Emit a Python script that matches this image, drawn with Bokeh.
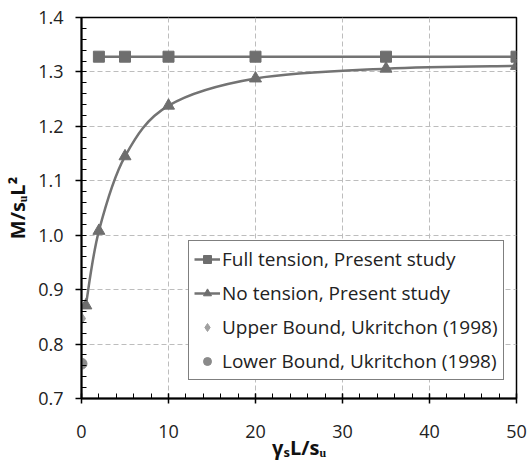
from bokeh.plotting import figure
from bokeh.models import Legend, LegendItem, FixedTicker, Range1d
from bokeh.embed import file_html
from bokeh.resources import INLINE

# Data
full_x = [2, 5, 10, 20, 35, 50]
full_y = [1.328, 1.328, 1.328, 1.328, 1.328, 1.328]
no_x = [0.5, 2, 5, 10, 20, 35, 50]
no_y = [0.871, 1.008, 1.145, 1.238, 1.288, 1.306, 1.311]
upper_x = [0]
upper_y = [0.847]
lower_x = [0]
lower_y = [0.764]

x_ticks = [0, 10, 20, 30, 40, 50]
y_ticks = [0.7, 0.8, 0.9, 1.0, 1.1, 1.2, 1.3, 1.4]

FONT = "Open Sans"
GRAY = "#737373"

p = figure(width=528, height=472, output_backend="svg", toolbar_location=None,
           x_range=Range1d(0, 50), y_range=Range1d(0.7, 1.4),
           min_border_left=81, min_border_right=12, min_border_top=17, min_border_bottom=74)

p.background_fill_color = "white"
p.border_fill_color = "white"
p.outline_line_color = "black"
p.outline_line_width = 1.5

# grids
for g in (p.xgrid, p.ygrid):
    g.grid_line_color = "#bdbdbd"
    g.grid_line_dash = "5 3"
    g.grid_line_width = 1
p.xgrid.ticker = FixedTicker(ticks=x_ticks)
p.ygrid.ticker = FixedTicker(ticks=y_ticks)

# axes
p.xaxis.ticker = FixedTicker(ticks=x_ticks, minor_ticks=[i * 2 for i in range(26)])
p.yaxis.ticker = FixedTicker(ticks=y_ticks, minor_ticks=[round(0.7 + 0.02 * i, 2) for i in range(36)])
p.yaxis.major_label_overrides = {t: f"{t:.1f}" for t in y_ticks}
for ax in (p.xaxis, p.yaxis):
    ax.axis_line_color = "black"
    ax.axis_line_width = 2
    ax.major_tick_line_color = "black"
    ax.major_tick_line_width = 1.5
    ax.minor_tick_line_color = "black"
    ax.minor_tick_line_width = 1
    ax.major_label_text_font = FONT
    ax.major_label_text_font_size = "18px"
    ax.major_label_text_color = "#222222"
    ax.axis_label_text_font = FONT
    ax.axis_label_text_font_size = "20px"
    ax.axis_label_text_font_style = "bold"
    ax.axis_label_text_color = "#111111"

p.xaxis.major_tick_in = 5
p.xaxis.major_tick_out = 5
p.xaxis.minor_tick_in = 5
p.xaxis.minor_tick_out = 0
p.xaxis.major_label_standoff = 21
p.xaxis.axis_label = "γₛL/sᵤ"
p.xaxis.axis_label_standoff = -7

p.yaxis.major_tick_in = 0
p.yaxis.major_tick_out = 6
p.yaxis.minor_tick_in = 5
p.yaxis.minor_tick_out = 0
p.yaxis.major_label_standoff = 12
p.yaxis.axis_label = "M/sᵤL²"
p.yaxis.axis_label_standoff = 4

# Full tension
r1l = p.line(full_x, full_y, line_color=GRAY, line_width=2.5)
r1m = p.scatter(full_x, full_y, marker="square", size=11, fill_color="#6e6e6e", line_color="#6e6e6e")

# No tension: smooth curve (Catmull-Rom Bezier like spreadsheet smoothing)
n = len(no_x)
x0s, y0s, x1s, y1s, c0x, c0y, c1x, c1y = [], [], [], [], [], [], [], []
for i in range(n - 1):
    pm = (no_x[max(i - 1, 0)], no_y[max(i - 1, 0)])
    p0 = (no_x[i], no_y[i])
    p1 = (no_x[i + 1], no_y[i + 1])
    pp = (no_x[min(i + 2, n - 1)], no_y[min(i + 2, n - 1)])
    x0s.append(p0[0]); y0s.append(p0[1]); x1s.append(p1[0]); y1s.append(p1[1])
    c0x.append(p0[0] + (p1[0] - pm[0]) / 6.0)
    c0y.append(p0[1] + (p1[1] - pm[1]) / 6.0)
    c1x.append(p1[0] - (pp[0] - p0[0]) / 6.0)
    c1y.append(p1[1] - (pp[1] - p0[1]) / 6.0)
p.bezier(x0=x0s, y0=y0s, x1=x1s, y1=y1s, cx0=c0x, cy0=c0y, cx1=c1x, cy1=c1y,
         line_color=GRAY, line_width=2.5)
r2m = p.scatter(no_x, no_y, marker="triangle", size=12, fill_color="#6e6e6e", line_color="#6e6e6e")
# single-point line used only for the legend swatch
r2leg = p.line(no_x[:1], no_y[:1], line_color=GRAY, line_width=2.5)

r3 = p.scatter(upper_x, upper_y, marker="diamond", size=12, fill_color="#a0a0a0", line_color="#a0a0a0")
r4 = p.scatter(lower_x, lower_y, marker="circle", size=11, fill_color="#8a8a8a", line_color="#8a8a8a")

legend = Legend(items=[
    LegendItem(label="Full tension, Present study", renderers=[r1l, r1m]),
    LegendItem(label="No tension, Present study", renderers=[r2leg, r2m]),
    LegendItem(label="Upper Bound, Ukritchon (1998)", renderers=[r3]),
    LegendItem(label="Lower Bound, Ukritchon (1998)", renderers=[r4]),
], location=(107, 18))
legend.label_text_font = FONT
legend.label_text_font_size = "19px"
legend.label_text_color = "#222222"
legend.border_line_color = "black"
legend.border_line_width = 1.5
legend.background_fill_color = "white"
legend.background_fill_alpha = 1
legend.glyph_width = 26
legend.glyph_height = 20
legend.label_height = 20
legend.spacing = 8
legend.padding = 5
legend.margin = 0
legend.label_standoff = 2
p.add_layout(legend, "center")

open("out.html", "w").write(file_html(p, INLINE))
